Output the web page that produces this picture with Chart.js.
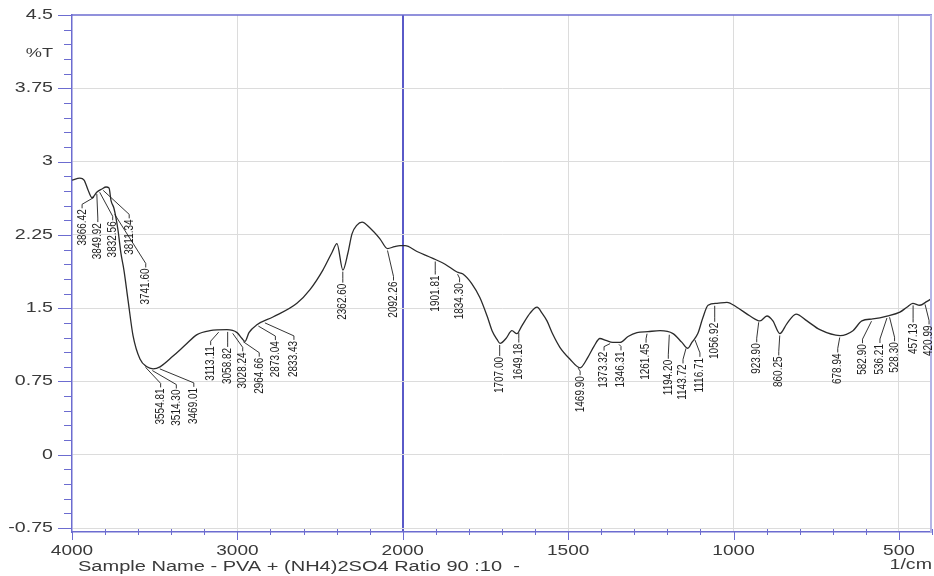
<!DOCTYPE html>
<html>
<head>
<meta charset="utf-8">
<title>FTIR - PVA + (NH4)2SO4 90:10</title>
<script src="https://cdn.jsdelivr.net/npm/chart.js@4/dist/chart.umd.min.js"></script>
<style>
  html, body { margin: 0; padding: 0; background: #ffffff; }
  canvas { display: block; }
</style>
</head>
<body>
<canvas id="ftir" width="934" height="576"></canvas>
<script>
// Spectrum: wavenumber (1/cm, descending) and transmittance (%T)
const waveNumbers = [4000, 3952, 3927, 3903, 3879, 3849, 3819, 3794, 3776, 3764, 3746, 3722, 3704, 3686, 3661, 3631, 3589, 3547, 3510, 3468,
  3389, 3317, 3244, 3166, 3063, 3002, 2972, 2954, 2930, 2882, 2785, 2640, 2561, 2483, 2428, 2398, 2362, 2331, 2307, 2277,
  2246, 2198, 2138, 2092, 2050, 2016, 1993, 1957, 1909, 1872, 1836, 1818, 1791, 1767, 1745, 1730, 1715, 1706, 1688, 1670,
  1655, 1640, 1615, 1594, 1579, 1564, 1546, 1525, 1495, 1464, 1440, 1422, 1404, 1386, 1365, 1343, 1319, 1292, 1259, 1222,
  1183, 1156, 1138, 1126, 1108, 1093, 1077, 1050, 1020, 990, 950, 920, 899, 881, 860, 839, 811, 778, 739, 678,
  639, 612, 579, 536, 497, 476, 458, 437, 415, 400];
const transmittance = [2.81, 2.83, 2.81, 2.71, 2.63, 2.69, 2.72, 2.74, 2.73, 2.60, 2.52, 2.30, 2.06, 1.89, 1.58, 1.22, 0.98, 0.90, 0.88, 0.90,
  1.01, 1.12, 1.23, 1.27, 1.28, 1.25, 1.19, 1.16, 1.25, 1.33, 1.41, 1.55, 1.69, 1.89, 2.07, 2.16, 1.89, 2.07, 2.26, 2.35,
  2.38, 2.32, 2.21, 2.11, 2.13, 2.14, 2.14, 2.08, 2.01, 1.95, 1.87, 1.85, 1.75, 1.61, 1.42, 1.27, 1.18, 1.14, 1.19, 1.27,
  1.24, 1.32, 1.45, 1.51, 1.45, 1.37, 1.23, 1.10, 0.98, 0.89, 1.00, 1.11, 1.19, 1.17, 1.15, 1.15, 1.21, 1.25, 1.26, 1.27,
  1.24, 1.15, 1.09, 1.15, 1.24, 1.40, 1.53, 1.55, 1.56, 1.51, 1.42, 1.37, 1.42, 1.37, 1.24, 1.34, 1.44, 1.37, 1.28, 1.22,
  1.27, 1.37, 1.39, 1.42, 1.46, 1.51, 1.55, 1.53, 1.57, 1.60];

// Picked peaks (1/cm)
const peakWaves = [3866.42, 3849.92, 3832.56, 3811.34, 3741.60, 3554.81, 3514.30, 3469.01, 3113.11, 3058.82,
  3028.24, 2964.66, 2873.04, 2833.43, 2362.60, 2092.26, 1901.81, 1834.30, 1707.00, 1649.18,
  1469.90, 1373.32, 1346.31, 1261.45, 1194.20, 1143.72, 1116.71, 1056.92, 923.90, 860.25,
  678.94, 582.90, 536.21, 528.30, 457.13, 420.99];

// Axis ticks
const xTickWaves = [4000, 3000, 2000, 1500, 1000, 500];
const yTickValues = [4.5, 3.75, 3, 2.25, 1.5, 0.75, 0, -0.75];
const yMinorStep = 0.15;
const xMinorStep = 100;

// Peak label placement: [horizontal shift, drop below the trace] in px
const peakLabelLayout = [[-12, 13], [1, 30], [13, 30], [26, 30], [31, 55], [15, 22], [24, 20], [34, 20], [-8, 15], [0, 17],
  [10, 20], [16, 17], [17, 16], [29, 19], [0, 13], [6, 32], [0, 15], [2, 10], [0, 13], [0, 12],
  [2, 9], [-6, 9], [2, 8], [-1, 11], [-1, 26], [-3, 17], [5, 19], [0, 18], [-2, 22], [-1, 22],
  [-2, 17], [-9, 24], [-7, 27], [5, 26], [0, 19], [4, 22]];

// The wavenumber axis changes scale at 2000 1/cm: 4000-2000 is drawn at half the density of 2000-400
function waveToAxis(w) { return w >= 2000 ? (4000 - w) / 2 : 1000 + (2000 - w); }
function axisToWave(u) { return u <= 1000 ? 4000 - 2 * u : 2000 - (u - 1000); }

function transmittanceAt(w) {
  for (let i = 0; i < waveNumbers.length - 1; i++) {
    const a = waveNumbers[i], b = waveNumbers[i + 1];
    if (w <= a && w >= b) {
      const t = (a - w) / (a - b);
      return transmittance[i] + t * (transmittance[i + 1] - transmittance[i]);
    }
  }
  return transmittance[transmittance.length - 1];
}

const xMajorAxis = xTickWaves.map(waveToAxis);
const isXMajor = u => xMajorAxis.some(m => Math.abs(m - u) < 1e-6);
const isYMajor = v => yTickValues.some(m => Math.abs(m - v) < 1e-6);
const fmtY = v => String(Number(v.toFixed(2)));

const AXIS_BLUE = '#6c6cd0';
const GRID_GREY = '#dcdcdc';
const TEXT_DARK = '#3a3a3a';
const FONT = '"Liberation Sans", Arial, sans-serif';

function stretchedText(ctx, text, x, y, sx, align, baseline) {
  ctx.save();
  ctx.translate(x, y);
  ctx.scale(sx, 1);
  ctx.textAlign = align;
  ctx.textBaseline = baseline;
  ctx.fillText(text, 0, 0);
  ctx.restore();
}

const ftirDecor = {
  id: 'ftirDecor',
  beforeDraw(chart) {
    const c = chart.ctx;
    c.save();
    c.fillStyle = '#ffffff';
    c.fillRect(0, 0, chart.width, chart.height);
    c.restore();
  },
  afterDraw(chart) {
    const c = chart.ctx;
    const area = chart.chartArea;
    const xs = chart.scales.x, ys = chart.scales.y;
    c.save();

    // frame: top in axis blue, right edge pale
    c.lineWidth = 1.5;
    c.strokeStyle = AXIS_BLUE;
    c.beginPath();
    c.moveTo(area.left, area.top);
    c.lineTo(area.right, area.top);
    c.stroke();
    c.strokeStyle = '#b4b4e6';
    c.lineWidth = 2;
    c.beginPath();
    c.moveTo(area.right - 1, area.top);
    c.lineTo(area.right - 1, area.bottom);
    c.stroke();

    // tick marks
    c.strokeStyle = AXIS_BLUE;
    c.lineWidth = 1;
    ys.ticks.forEach(t => {
      const y = Math.round(ys.getPixelForValue(t.value)) + 0.5;
      const len = isYMajor(t.value) ? 14 : 8;
      c.beginPath();
      c.moveTo(area.left - len, y);
      c.lineTo(area.left, y);
      c.stroke();
    });
    xs.ticks.forEach(t => {
      const x = Math.round(xs.getPixelForValue(t.value)) + 0.5;
      c.beginPath();
      if (isXMajor(t.value)) {
        c.moveTo(x, area.bottom);
        c.lineTo(x, area.bottom + 8);
      } else {
        c.moveTo(x, area.bottom - 3);
        c.lineTo(x, area.bottom + 3);
      }
      c.stroke();
    });

    // tick labels
    c.fillStyle = TEXT_DARK;
    c.font = '14px ' + FONT;
    ys.ticks.forEach(t => {
      if (!isYMajor(t.value)) return;
      stretchedText(c, fmtY(t.value), area.left - 19, ys.getPixelForValue(t.value), 1.4, 'right', 'middle');
    });
    xs.ticks.forEach(t => {
      if (!isXMajor(t.value)) return;
      stretchedText(c, String(axisToWave(t.value)), xs.getPixelForValue(t.value), area.bottom + 19, 1.36, 'center', 'middle');
    });

    // axis captions
    c.font = '13px ' + FONT;
    stretchedText(c, '%T', area.left - 19, ys.getPixelForValue(4.11), 1.4, 'right', 'middle');
    c.font = '14px ' + FONT;
    stretchedText(c, 'Sample Name - PVA + (NH4)2SO4 Ratio 90 :10  -', 78, 571, 1.43, 'left', 'alphabetic');
    stretchedText(c, '1/cm', area.right, 569, 1.4, 'right', 'alphabetic');

    // peak labels with leader lines
    c.strokeStyle = '#1e1e1e';
    c.fillStyle = '#1e1e1e';
    c.lineWidth = 0.9;
    c.font = '10px ' + FONT;
    peakWaves.forEach((w, i) => {
      const px = xs.getPixelForValue(waveToAxis(w));
      const py = ys.getPixelForValue(transmittanceAt(w));
      const [dx, drop] = peakLabelLayout[i];
      const lx = px + dx;
      const top = py + drop;
      c.beginPath();
      c.moveTo(px, py + 2);
      c.lineTo(lx, Math.max(py + 2, top - 4));
      c.lineTo(lx, top);
      c.stroke();
      c.save();
      c.translate(lx, top + 1);
      c.scale(1.25, 1);
      c.rotate(-Math.PI / 2);
      c.textAlign = 'right';
      c.textBaseline = 'middle';
      c.fillText(w.toFixed(2), 0, 0);
      c.restore();
    });

    c.restore();
  }
};

const points = waveNumbers.map((w, i) => ({ x: waveToAxis(w), y: transmittance[i] }));

new Chart(document.getElementById('ftir'), {
  type: 'line',
  data: {
    datasets: [{
      data: points,
      borderColor: '#2b2b2b',
      borderWidth: 1.3,
      pointRadius: 0,
      fill: false,
      cubicInterpolationMode: 'monotone'
    }]
  },
  options: {
    responsive: false,
    animation: false,
    events: [],
    layout: { padding: { top: 15, right: 2, left: 0, bottom: 0 } },
    plugins: { legend: { display: false }, tooltip: { enabled: false } },
    scales: {
      x: {
        type: 'linear',
        min: 0,
        max: waveToAxis(400),
        afterBuildTicks(scale) {
          const ticks = [];
          for (let u = 0; u <= waveToAxis(400) + 1e-6; u += xMinorStep) ticks.push({ value: u });
          scale.ticks = ticks;
        },
        afterFit(scale) { scale.height = 44; },
        ticks: { display: false },
        grid: {
          drawTicks: false,
          color: ctx => {
            const u = ctx.tick ? ctx.tick.value : -1;
            if (Math.abs(u - waveToAxis(2000)) < 1e-6) return '#5a5ac8';
            if (isXMajor(u) && u > 0) return GRID_GREY;
            return 'rgba(0,0,0,0)';
          },
          lineWidth: ctx => (ctx.tick && Math.abs(ctx.tick.value - waveToAxis(2000)) < 1e-6) ? 2 : 1
        },
        border: { display: true, color: AXIS_BLUE, width: 1.5 }
      },
      y: {
        type: 'linear',
        min: -0.79,
        max: 4.5,
        afterBuildTicks(scale) {
          const ticks = [];
          const lo = Math.round(yTickValues[yTickValues.length - 1] / yMinorStep);
          const hi = Math.round(yTickValues[0] / yMinorStep);
          for (let k = lo; k <= hi; k++) ticks.push({ value: Number((k * yMinorStep).toFixed(2)) });
          scale.ticks = ticks;
        },
        afterFit(scale) { scale.width = 72; },
        ticks: { display: false },
        grid: {
          drawTicks: false,
          color: ctx => {
            const v = ctx.tick ? ctx.tick.value : 99;
            return (isYMajor(v) && v < 4.5) ? GRID_GREY : 'rgba(0,0,0,0)';
          }
        },
        border: { display: true, color: AXIS_BLUE, width: 1.5 }
      }
    }
  },
  plugins: [ftirDecor]
});
</script>
</body>
</html>
